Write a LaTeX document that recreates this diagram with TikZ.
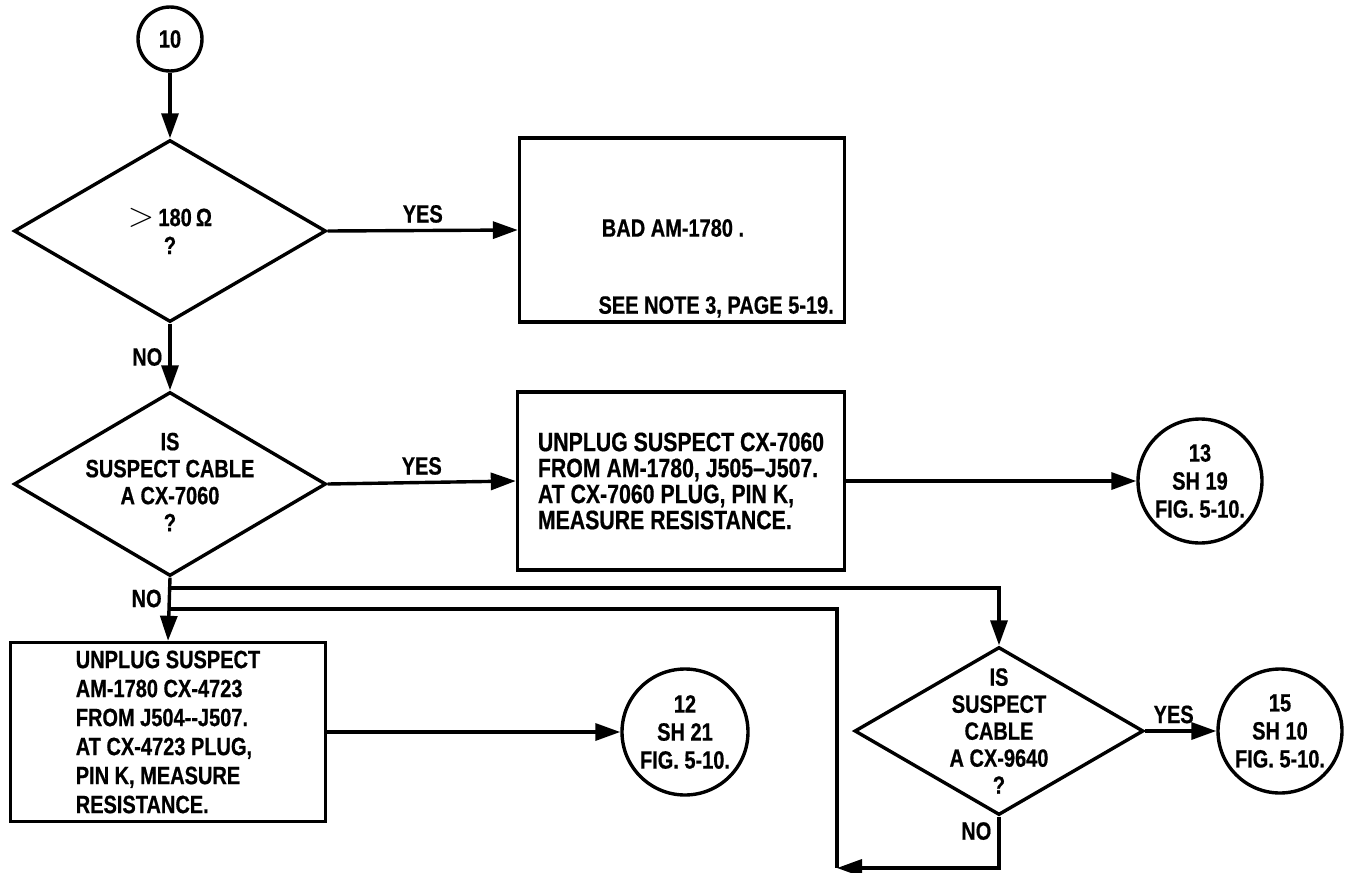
\documentclass[tikz,border=0pt]{standalone}
\usepackage{fontspec}
\setmainfont{Liberation Sans}[FakeStretch=0.8, BoldFeatures={FakeBold=0.6}]
\usepackage{tikz}
\usetikzlibrary{shapes.geometric, arrows.meta}

\begin{document}
\begin{tikzpicture}[x=0.5pt, y=-0.5pt,
    linea/.style={line width=1.7pt},
    flecha/.style={linea, -{Triangle[length=12.5pt, width=8.5pt]}},
    texto/.style={font=\fontsize{12.5}{14}\selectfont\bfseries, align=center, inner sep=0pt},
    circulo/.style={circle, draw, linea, texto, minimum size=#1},
    rombo/.style 2 args={diamond, draw, linea, inner sep=0pt, minimum width=#1, minimum height=#2},
    caja/.style 2 args={rectangle, draw, linea, texto, align=left, minimum width=#1, minimum height=#2},
    etiqueta/.style={texto, inner sep=3pt}]

    % Marco del dibujo
    \useasboundingbox (0,0) rectangle (1351,873);

    % Circulo de entrada
    \node[circulo=32pt] (C10) at (170,39) {10};

    % Primer rombo y caja de falla
    \node[rombo={156pt}{91pt}] (R1) at (170,231) {};
    \node[texto] (R1t) at (R1) {{\fontsize{17}{14}\selectfont$>$}\,180\,Ω\\?};
    \node[caja={162.5pt}{92pt}] (B1) at (682,230) {};
    \node[texto] (B1t) at (673,228) {BAD AM-1780 .};
    \node[texto, anchor=base east] (B1n) at ([xshift=-6pt, yshift=5pt]B1.south east) {SEE NOTE 3, PAGE 5-19.};

    % Segundo rombo, caja y circulo 13
    \node[rombo={156pt}{92pt}] (R2) at (170,484) {};
    \node[texto, font=\fontsize{12.5}{13.5}\selectfont\bfseries] (R2t) at (170,482) {IS\\SUSPECT CABLE\\A CX-7060\\?};
    \node[caja={163.5pt}{89pt}, font=\fontsize{13.3}{13}\selectfont\bfseries] (B2) at (681,481) {UNPLUG SUSPECT CX-7060\\FROM AM-1780, J505--J507.\\AT CX-7060 PLUG, PIN K,\\MEASURE RESISTANCE.};
    \node[circulo=62pt] (C13) at (1200,481) {13\\SH 19\\FIG. 5-10.};

    % Tercera caja y circulo 12
    \node[caja={157.5pt}{89.5pt}, font=\fontsize{12.5}{14.5}\selectfont\bfseries] (B3) at (168,732) {UNPLUG SUSPECT\\AM-1780 CX-4723\\FROM J504{-}{-}J507.\\AT CX-4723 PLUG,\\PIN K, MEASURE\\RESISTANCE.};
    \node[circulo=63pt] (C12) at (685,732) {12\\SH 21\\FIG. 5-10.};

    % Tercer rombo y circulo 15
    \node[rombo={144.5pt}{84pt}] (R3) at (999,731) {};
    \node[texto, font=\fontsize{12.5}{13.5}\selectfont\bfseries] (R3t) at (999,731) {IS\\SUSPECT\\CABLE\\A CX-9640\\?};
    \node[circulo=62pt] (C15) at (1280,731) {15\\SH 10\\FIG. 5-10.};

    % Coordenadas de las ramas
    \coordinate (A1) at (170,588);
    \coordinate (A2) at (170,609);
    \coordinate (P1) at (837,609);
    \coordinate (P2) at (837,868);

    % Conectores
    \draw[flecha] (C10.south) -- (R1.north);
    \draw[flecha] (R1.east) -- node[etiqueta, midway, above] (Y1) {YES} (B1.west);
    \draw[flecha] (R1.south) -- node[etiqueta, midway, left] (N1) {NO} (R2.north);
    \draw[flecha] (R2.east) -- node[etiqueta, midway, above] (Y2) {YES} (B2.west);
    \draw[flecha] (B2.east) -- (C13.west);
    \draw[flecha] (R2.south) -- node[etiqueta, pos=0.33, left] (N2) {NO} (B3.north);
    \draw[flecha] (A1) -| (R3.north);
    \draw[linea] (A2) -- (P1) -- (P2);
    \draw[flecha] (R3.south) |- node[etiqueta, pos=0.14, left] (N3) {NO} (P2);
    \draw[flecha] (B3.east) -- (C12.west);
    \draw[flecha] (R3.east) -- node[etiqueta, pos=0.4, above] (Y3) {YES} (C15.west);

\end{tikzpicture}
\end{document}
